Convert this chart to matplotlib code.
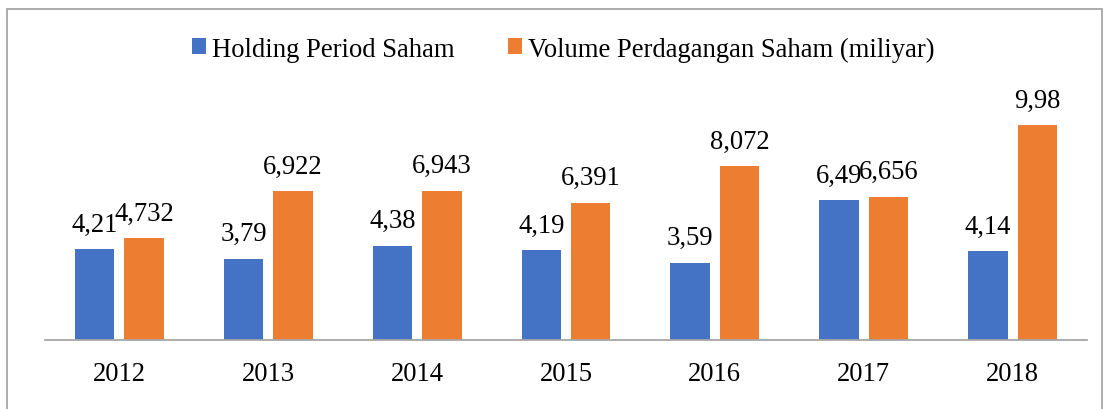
import matplotlib.pyplot as plt
import numpy as np
from matplotlib.patches import Rectangle

plt.rcParams['font.family'] = ['Liberation Serif', 'DejaVu Serif']

# data
years = ['2012', '2013', '2014', '2015', '2016', '2017', '2018']
holding = [4.21, 3.79, 4.38, 4.19, 3.59, 6.49, 4.14]
volume = [4.732, 6.922, 6.943, 6.391, 8.072, 6.656, 9.98]
holding_lbl = ['4,21', '3,79', '4,38', '4,19', '3,59', '6,49', '4,14']
volume_lbl = ['4,732', '6,922', '6,943', '6,391', '8,072', '6,656', '9,98']

W, H = 1105, 410
fig = plt.figure(figsize=(W / 100, H / 100), dpi=100)
ax = fig.add_axes([45 / W, 1 - 341 / H, (1087 - 45) / W, 258 / H])

x = np.arange(len(years))
bw = 0.265
off = 0.166
b1 = ax.bar(x - off, holding, bw, color='#4472C4', label='Holding Period Saham')
b2 = ax.bar(x + off, volume, bw, color='#ED7D31', label='Volume Perdagangan Saham (miliyar)')

fs = 19.2
for bars, labels in [(b1, holding_lbl), (b2, volume_lbl)]:
    for r, t in zip(bars, labels):
        ax.annotate(t, (r.get_x() + r.get_width() / 2, r.get_height()),
                    xytext=(0, 9), textcoords='offset points',
                    ha='center', va='bottom', fontsize=fs, color='#000000')

ax.set_xlim(-0.5, len(years) - 0.5)
ax.set_ylim(0, 12)
ax.set_xticks(x)
ax.set_xticklabels(years, fontsize=fs)
ax.tick_params(axis='x', length=0, pad=15)
ax.set_yticks([])
for s in ['top', 'right', 'left']:
    ax.spines[s].set_visible(False)
ax.spines['bottom'].set_color('#A6A6A6')
ax.spines['bottom'].set_linewidth(1.3)

fig.legend(loc='center', bbox_to_anchor=(563 / W, 1 - 50 / H), ncol=2, frameon=False,
           fontsize=fs, handlelength=0.55, handleheight=0.55, handletextpad=0.2,
           columnspacing=2.0)

# chart border
fig.patches.append(Rectangle((7 / W, -0.05), (1102 - 7) / W, 1 - 10 / H + 0.05,
                             transform=fig.transFigure, fill=False,
                             edgecolor='#A6A6A6', linewidth=1.3))

fig.savefig('out.png', dpi=100)
